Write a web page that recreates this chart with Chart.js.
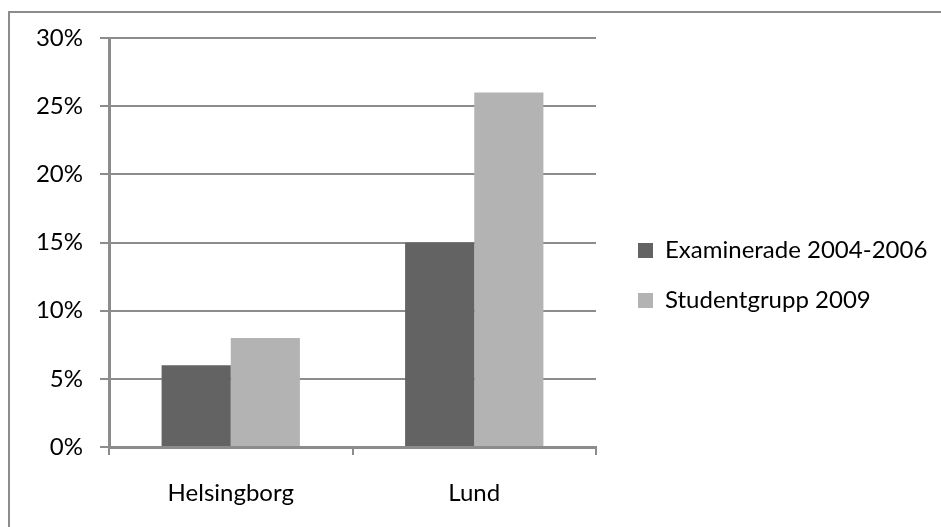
<!DOCTYPE html>
<html>
<head>
<meta charset="utf-8">
<script src="https://cdn.jsdelivr.net/npm/chart.js@4/dist/chart.umd.min.js"></script>
<style>
  html, body { margin: 0; padding: 0; background: #fff; overflow: hidden; }
  #frame { position: absolute; left: 8px; top: 11px; width: 1000px; height: 600px;
           border-left: 2px solid #8c8c8c; border-top: 2px solid #8c8c8c; }
  #wrap { position: absolute; left: 0; top: 0; width: 941px; height: 527px; }
</style>
</head>
<body>
<div id="frame"></div>
<div id="wrap"><canvas id="c" width="941" height="527"></canvas></div>
<script>
const categories = ["Helsingborg", "Lund"];
const seriesNames = ["Examinerade 2004-2006", "Studentgrupp 2009"];
const examinerade = [6, 15];
const studentgrupp = [8, 26];
const yTicks = [0, 5, 10, 15, 20, 25, 30];

const FONT = "Lato";
const FS = 24;
const GRID = "#8c8c8c";

const legendFix = {
  id: "legendFix",
  beforeLayout(chart) {
    const l = chart.legend;
    if (l && !l._patched) {
      const f = l.fit.bind(l);
      l.fit = function () { f(); this.width = 345; };
      l._patched = true;
    }
  },
  afterLayout(chart) {
    const l = chart.legend;
    if (!l) return;
    l.left += 16; l.right += 16;
    l.top += 4; l.bottom += 4;
  }
};

function draw() {
  new Chart(document.getElementById("c"), {
    type: "bar",
    data: {
      labels: categories,
      datasets: [
        { label: seriesNames[0], data: examinerade, backgroundColor: "#636363", borderWidth: 0 },
        { label: seriesNames[1], data: studentgrupp, backgroundColor: "#b3b3b3", borderWidth: 0 }
      ]
    },
    options: {
      responsive: false,
      animation: false,
      layout: { padding: { top: 38, bottom: 22, left: 0, right: 0 } },
      datasets: { bar: { barPercentage: 1, categoryPercentage: 0.568 } },
      plugins: {
        legend: {
          position: "right",
          align: "center",
          labels: {
            boxWidth: 15, boxHeight: 15, padding: 26,
            color: "#000",
            font: { family: FONT, size: FS }
          }
        },
        tooltip: { enabled: false },
        title: { display: false }
      },
      scales: {
        x: {
          afterFit(scale) { scale.height = 58; },
          grid: { display: true, drawOnChartArea: false, drawTicks: true, tickLength: 8, color: GRID, lineWidth: 2, offset: true },
          border: { display: true, color: GRID, width: 3 },
          ticks: { color: "#000", padding: 24, font: { family: FONT, size: FS } }
        },
        y: {
          min: 0, max: 30,
          afterBuildTicks(scale) { scale.ticks = yTicks.map(v => ({ value: v })); },
          afterFit(scale) { scale.width = 109; },
          grid: { color: GRID, lineWidth: 2, tickLength: 9 },
          border: { display: true, color: GRID, width: 3 },
          ticks: { color: "#000", padding: 17, font: { family: FONT, size: FS }, callback: v => v + "%" }
        }
      }
    },
    plugins: [legendFix]
  });
}

Promise.all([
  document.fonts.load(FS + "px " + FONT)
]).then(draw, draw);
</script>
</body>
</html>
